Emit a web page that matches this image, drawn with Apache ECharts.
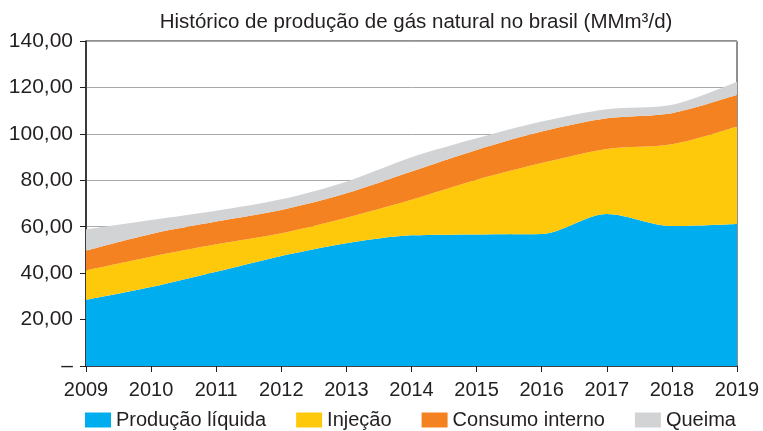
<!DOCTYPE html>
<html>
<head>
<meta charset="utf-8">
<script src="https://cdn.jsdelivr.net/npm/echarts@6/dist/echarts.min.js"></script>
<style>
html, body { margin: 0; padding: 0; background: #fff; }
#chart { width: 763px; height: 431px; }
</style>
</head>
<body>
<div id="chart"></div>
<script>
// valores (MMm³/d)
var anos = ['2009', '2010', '2011', '2012', '2013', '2014', '2015', '2016', '2017', '2018', '2019'];
var producaoLiquida = [28.5, 34.0, 40.6, 47.4, 52.9, 56.3, 56.7, 56.9, 65.5, 60.3, 61.2];
var injecao = [12.7, 13.1, 11.8, 9.8, 11.0, 15.3, 23.5, 30.5, 28.0, 35.2, 42.0];
var consumoInterno = [8.5, 9.8, 9.8, 10.0, 10.5, 12.2, 12.9, 13.6, 13.2, 13.4, 13.6];
var queima = [9.2, 6.0, 4.7, 4.6, 5.0, 6.1, 5.0, 4.3, 3.9, 3.6, 5.7];

var nomes = ['Produção líquida', 'Injeção', 'Consumo interno', 'Queima'];
var cores = ['#00aeef', '#ffc90b', '#f58220', '#d1d3d4'];
var dados = [producaoLiquida, injecao, consumoInterno, queima];

var fonte = '"Liberation Sans", Arial, sans-serif';

var series = nomes.map(function (nome, i) {
    return {
        name: nome,
        type: 'line',
        stack: 'total',
        smooth: 0.3,
        symbol: 'none',
        lineStyle: { width: 0 },
        areaStyle: { color: cores[i], opacity: 1 },
        itemStyle: { color: cores[i] },
        data: dados[i]
    };
});

var chart = echarts.init(document.getElementById('chart'));
chart.setOption({
    animation: false,
    title: {
        text: 'Histórico de produção de gás natural no brasil (MMm³/d)',
        left: 411,
        top: 7,
        textAlign: 'center',
        textStyle: { fontFamily: fonte, fontSize: 20.5, fontWeight: 'normal', color: '#231f20' }
    },
    grid: {
        left: 86, right: 26, top: 41, bottom: 65,
        show: true, borderColor: '#231f20', borderWidth: 1
    },
    legend: {
        data: nomes,
        left: 85,
        top: 410,
        padding: 0,
        itemWidth: 26,
        itemHeight: 15,
        itemGap: 30,
        icon: 'rect',
        textStyle: { fontFamily: fonte, fontSize: 20, color: '#231f20' }
    },
    xAxis: {
        type: 'category',
        data: anos,
        boundaryGap: false,
        axisLine: { lineStyle: { color: '#231f20', width: 1.5 } },
        axisTick: { show: true, length: 6, lineStyle: { color: '#231f20' } },
        axisLabel: { fontFamily: fonte, fontSize: 20, color: '#231f20', margin: 14 },
        splitLine: { show: false }
    },
    yAxis: {
        type: 'value',
        min: 0,
        max: 140,
        interval: 20,
        axisLine: { show: true, lineStyle: { color: '#231f20', width: 1.5 } },
        axisTick: { show: true, length: 6, lineStyle: { color: '#231f20' } },
        axisLabel: {
            fontFamily: fonte, fontSize: 21, color: '#231f20', margin: 13,
            formatter: function (v) {
                return v === 0 ? '–' : v.toFixed(2).replace('.', ',');
            }
        },
        splitLine: { lineStyle: { color: '#a7a9ac', width: 1 } }
    },
    series: series
});
</script>
</body>
</html>
